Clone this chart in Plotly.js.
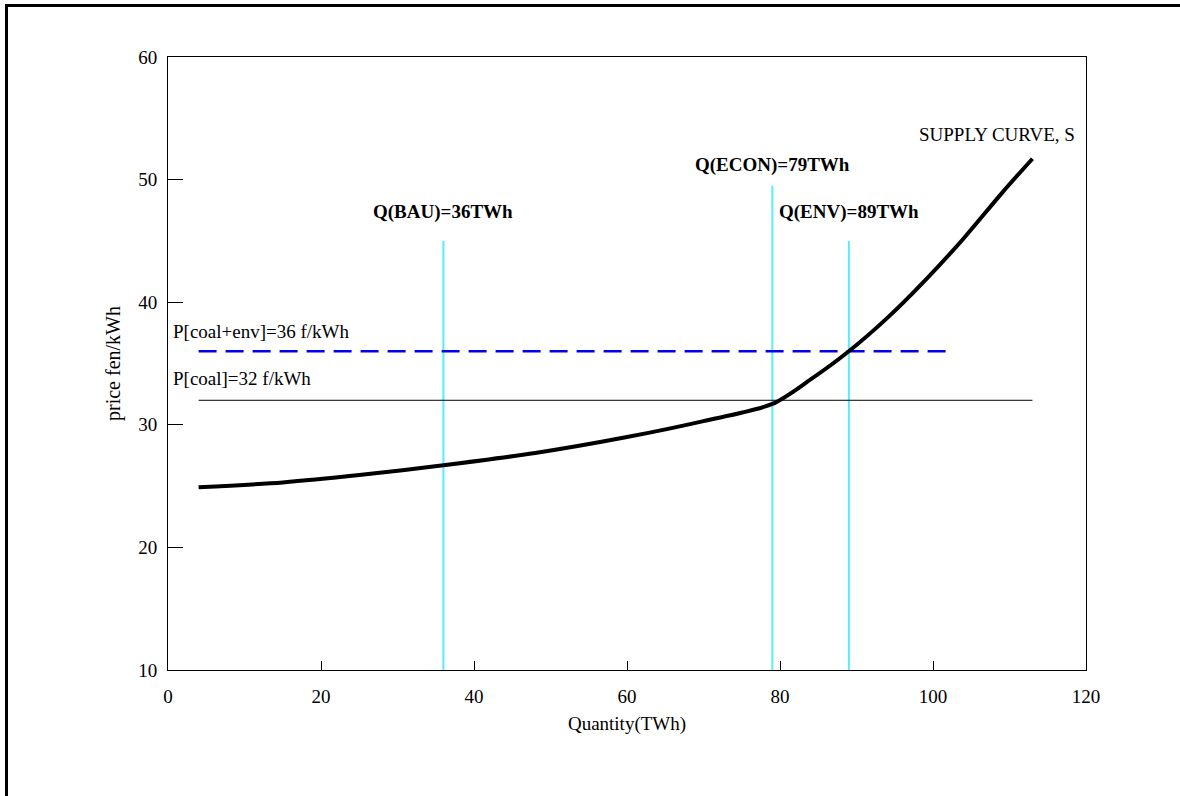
<!DOCTYPE html>
<html>
<head>
<meta charset="utf-8">
<script src="https://cdn.plot.ly/plotly-3.0.1.min.js"></script>
<style>
html,body{margin:0;padding:0;background:#fff;}
#wrap{position:relative;width:1180px;height:796px;overflow:hidden;}
#frame{position:absolute;left:5px;top:4px;width:1300px;height:900px;border-top:3px solid #000;border-left:3px solid #000;pointer-events:none;}
#chart{position:absolute;left:0;top:0;width:1180px;height:796px;}
</style>
</head>
<body>
<div id="wrap"><div id="chart"></div><div id="frame"></div></div>
<script>
// Supply curve (Quantity TWh vs price fen/kWh)
const supplyQ = [4, 15, 25, 36, 48, 60, 70, 79, 84, 89, 94, 99, 104, 109, 113];
const supplyP = [24.9, 25.3, 25.9, 26.7, 27.7, 29.0, 30.3, 31.7, 33.7, 36.0, 38.7, 41.8, 45.2, 48.9, 51.7];

// Price lines
const pCoal = 32;
const pCoalEnv = 36;
const pCoalRange = [4, 113];
const pCoalEnvRange = [4, 102];

// Quantity markers
const qLabels = ["Q(BAU)=36TWh", "Q(ECON)=79TWh", "Q(ENV)=89TWh"];
const qValues = [36, 79, 89];
const qTops = [45, 49.5, 45];

const font = "Liberation Serif, Times New Roman, serif";
const cyan = "#55eef5";

const traces = [];
qValues.forEach((q, i) => {
  traces.push({x: [q, q], y: [10, qTops[i]], mode: "lines", line: {color: cyan, width: 2}, hoverinfo: "skip"});
});
traces.push({x: pCoalRange, y: [pCoal, pCoal], mode: "lines", line: {color: "#000", width: 1}});
traces.push({x: pCoalEnvRange, y: [pCoalEnv, pCoalEnv], mode: "lines", line: {color: "#0000ee", width: 2.5, dash: "18px,9px"}});
traces.push({x: supplyQ, y: supplyP, mode: "lines", line: {color: "#000", width: 4, shape: "spline", smoothing: 0.8}});

const aFont = {family: font, size: 19, color: "#000"};
const annotations = [
  {x: 113, y: 52.5, xref: "x", yref: "y", text: "SUPPLY CURVE, S", showarrow: false, xanchor: "right", yanchor: "bottom", xshift: 45, yshift: 2, font: aFont},
  {x: qValues[1], y: qTops[1], xref: "x", yref: "y", text: "<b>" + qLabels[1] + "</b>", showarrow: false, xanchor: "center", yanchor: "bottom", yshift: 8, font: aFont},
  {x: qValues[0], y: qTops[0], xref: "x", yref: "y", text: "<b>" + qLabels[0] + "</b>", showarrow: false, xanchor: "center", yanchor: "bottom", yshift: 16, font: aFont},
  {x: qValues[2], y: qTops[2], xref: "x", yref: "y", text: "<b>" + qLabels[2] + "</b>", showarrow: false, xanchor: "center", yanchor: "bottom", yshift: 16, font: aFont},
  {x: 0, y: pCoalEnv, xref: "x", yref: "y", text: "P[coal+env]=" + pCoalEnv + " f/kWh", showarrow: false, xanchor: "left", yanchor: "bottom", xshift: 3, yshift: 7, font: aFont},
  {x: 0, y: pCoal, xref: "x", yref: "y", text: "P[coal]=" + pCoal + " f/kWh", showarrow: false, xanchor: "left", yanchor: "bottom", xshift: 3, yshift: 9, font: aFont}
];

const layout = {
  width: 1180, height: 796,
  margin: {l: 168, r: 94, t: 57, b: 126},
  paper_bgcolor: "rgba(0,0,0,0)", plot_bgcolor: "#fff",
  showlegend: false,
  font: {family: font, size: 19, color: "#000"},
  xaxis: {
    range: [0, 120], tickvals: [0, 20, 40, 60, 80, 100, 120], ticks: "inside", ticklen: 9, tickcolor: "#000",
    showgrid: false, zeroline: false, showline: true, linecolor: "#000", linewidth: 1, mirror: true,
    ticklabelstandoff: 9,
    title: {text: "Quantity(TWh)", font: {family: font, size: 19}, standoff: 10}
  },
  yaxis: {
    range: [10, 60], tickvals: [10, 20, 30, 40, 50, 60], ticks: "inside", ticklen: 15, tickcolor: "#000",
    showgrid: false, zeroline: false, showline: true, linecolor: "#000", linewidth: 1, mirror: true,
    ticklabelstandoff: 6,
    title: {text: "price fen/kWh", font: {family: font, size: 20}, standoff: 12}
  },
  annotations: annotations
};

Plotly.newPlot("chart", traces, layout, {displayModeBar: false, staticPlot: true});
</script>
</body>
</html>
